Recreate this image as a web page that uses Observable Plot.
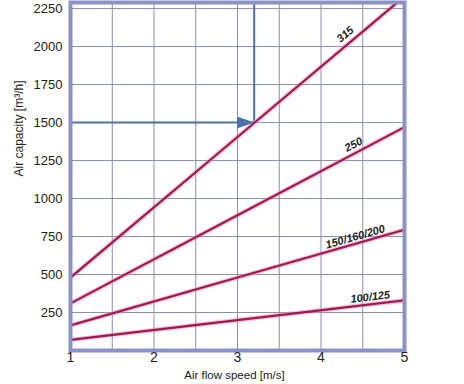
<!DOCTYPE html>
<html>
<head>
<meta charset="utf-8">
<script src="https://cdn.jsdelivr.net/npm/d3@7"></script>
<script src="https://cdn.jsdelivr.net/npm/@observablehq/plot@0.6"></script>
<style>
  html, body { margin: 0; padding: 0; background: #fff; }
  #chart svg { display: block; }
</style>
</head>
<body>
<div id="chart"></div>
<script>
// ---- data ----
const speeds = [1, 3, 5];                 // air flow speed [m/s]
const cap315 = [480, 1405, 2330];         // air capacity [m3/h]
const cap250 = [310, 890, 1470];
const cap150 = [165, 480, 795];
const cap100 = [70, 200, 330];
const seriesNames = ["315", "250", "150/160/200", "100/125"];
const labelSpeed = [4.29, 4.39, 4.41, 4.59];
const labelCap = [2080, 1355, 748, 352];
const xTicks = [1, 2, 3, 4, 5];
const xGrid = [1.5, 2, 2.5, 3, 3.5, 4, 4.5];
const yTicks = [250, 500, 750, 1000, 1250, 1500, 1750, 2000, 2250];
const guideSpeed = 3.2;
const guideCap = 1500;
const yMax = 2290;

// ---- layout ----
const W = 464, H = 384, mL = 70, mR = 60, mT = 2, mB = 34;
const kx = (W - mL - mR) / (5 - 1);
const ky = (H - mT - mB) / yMax;

const allCaps = [cap315, cap250, cap150, cap100];
const lines = allCaps.flatMap((caps, i) =>
  speeds.map((s, j) => ({series: seriesNames[i], speed: s, cap: caps[j]})));
const labels = seriesNames.map((n, i) => {
  const c = allCaps[i];
  const slope = (c[c.length - 1] - c[0]) / (speeds[speeds.length - 1] - speeds[0]);
  return {name: n, speed: labelSpeed[i], cap: labelCap[i],
          angle: -Math.atan(slope * ky / kx) * 180 / Math.PI};
});
const hGuide = [{speed: speeds[0], cap: guideCap}, {speed: guideSpeed, cap: guideCap}];
const vGuide = [{speed: guideSpeed, cap: guideCap}, {speed: guideSpeed, cap: yMax + 50}];

const arrowHead = {
  draw(ctx) {
    ctx.moveTo(0, 0);
    ctx.lineTo(-17, -6);
    ctx.lineTo(-17, 6);
    ctx.closePath();
  }
};

const lineColor = "#a3174f";
const guideColor = "#4a72a8";
const gridColor = "#8791a8";
const frameColor = "#8a92c6";

const chart = Plot.plot({
  width: W, height: H,
  marginLeft: mL, marginRight: mR, marginTop: mT, marginBottom: mB,
  style: {fontFamily: "'Liberation Sans', Arial, sans-serif", background: "#fff", color: "#222"},
  x: {domain: [1, 5], axis: null},
  y: {domain: [0, yMax], axis: null},
  marks: [
    Plot.gridX(xGrid, {stroke: gridColor, strokeOpacity: 1, strokeWidth: 1}),
    Plot.gridY(yTicks, {stroke: gridColor, strokeOpacity: 1, strokeWidth: 1}),
    Plot.line(hGuide, {x: "speed", y: "cap", stroke: guideColor, strokeWidth: 2}),
    Plot.line(vGuide, {x: "speed", y: "cap", stroke: guideColor, strokeWidth: 2, clip: true}),
    Plot.line(lines, {x: "speed", y: "cap", z: "series", stroke: "#ec8fb6", strokeOpacity: 0.55, strokeWidth: 4.5, clip: true}),
    Plot.line(lines, {x: "speed", y: "cap", z: "series", stroke: lineColor, strokeWidth: 2.2, clip: true}),
    Plot.dot([{speed: guideSpeed, cap: guideCap}], {x: "speed", y: "cap", symbol: arrowHead, r: 6, fill: guideColor, stroke: "none"}),
    Plot.text(labels, {x: "speed", y: "cap", text: "name", rotate: "angle", fontSize: 11,
      fontWeight: "bold", fontStyle: "italic", fill: "#222"}),
    Plot.frame({stroke: frameColor, strokeWidth: 4}),
    Plot.axisY(yTicks, {tickSize: 0, tickPadding: 8, fontSize: 13, label: null, fill: "#222", tickFormat: d3.format("d")}),
    Plot.axisX(xTicks, {tickSize: 0, tickPadding: 2, fontSize: 14, label: null, fill: "#222", tickFormat: d3.format("d")}),
    Plot.text(["Air capacity [m³/h]"], {frameAnchor: "left", dx: -51, rotate: -90, fontSize: 12, fill: "#222"}),
    Plot.text(["Air flow speed [m/s]"], {frameAnchor: "bottom", dx: -3, dy: 28, fontSize: 11.5, fill: "#222"})
  ]
});
document.getElementById("chart").appendChild(chart);
</script>
</body>
</html>
